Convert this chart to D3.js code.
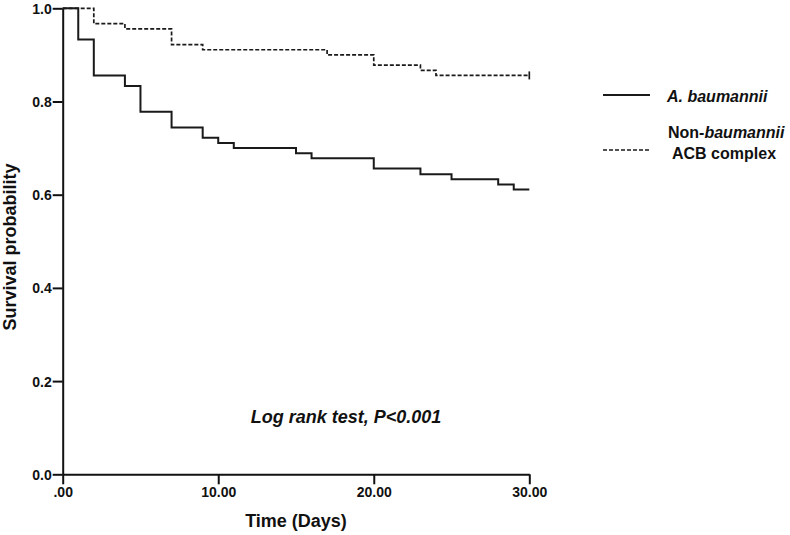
<!DOCTYPE html>
<html><head><meta charset="utf-8">
<script src="https://d3js.org/d3.v7.min.js"></script>
<style>
body{margin:0;background:#fff;}
text{font-family:"Liberation Sans",Arial,sans-serif;fill:#111;}
</style></head>
<body>
<svg id="c" width="790" height="535"></svg>
<script>
// Data
const seriesNames = ["A. baumannii", "Non-baumannii ACB complex"];
const timesA = [0, 1, 2, 4, 5, 7, 9, 10, 11, 15, 16, 20, 23, 25, 28, 29, 30];
const survA  = [1.0, 0.933, 0.856, 0.833, 0.778, 0.744, 0.722, 0.711, 0.700, 0.689, 0.678, 0.656, 0.644, 0.633, 0.622, 0.611, 0.611];
const timesN = [0, 2, 4, 7, 9, 17, 20, 23, 24, 30];
const survN  = [1.0, 0.967, 0.956, 0.922, 0.911, 0.900, 0.878, 0.867, 0.856, 0.856];
const xTicks = [0, 10, 20, 30];
const xTickLabels = [".00", "10.00", "20.00", "30.00"];
const yTicks = [0, 0.2, 0.4, 0.6, 0.8, 1.0];
const yTickLabels = ["0.0", "0.2", "0.4", "0.6", "0.8", "1.0"];

const svg = d3.select("#c");
const x = d3.scaleLinear().domain([0, 30]).range([62.7, 529.3]);
const y = d3.scaleLinear().domain([0, 1]).range([474.3, 8.3]);

// axes
const xAxis = d3.axisBottom(x).tickValues(xTicks).tickFormat((d,i)=>xTickLabels[i]).tickSize(10).tickSizeOuter(0).tickPadding(3);
const gx = svg.append("g").attr("transform", `translate(0,${y(0)})`).call(xAxis);
const yAxis = d3.axisLeft(y).tickValues(yTicks).tickFormat((d,i)=>yTickLabels[i]).tickSize(10).tickSizeOuter(0).tickPadding(1);
const gy = svg.append("g").attr("transform", `translate(${x(0)},0)`).call(yAxis);
[gx, gy].forEach(g=>{
  g.select(".domain").attr("stroke","#111").attr("stroke-width",2);
  g.selectAll(".tick line").attr("stroke","#111").attr("stroke-width",2);
  g.selectAll(".tick text").attr("font-family","Liberation Sans, Arial, sans-serif")
    .attr("font-size",14).attr("font-weight","bold").attr("fill","#111");
});
gy.selectAll(".tick text").attr("dy","0.36em");

// curves
const line = d3.line().x(d=>x(d[0])).y(d=>y(d[1])).curve(d3.curveStepAfter);
const dataA = timesA.map((t,i)=>[t, survA[i]]);
const dataN = timesN.map((t,i)=>[t, survN[i]]);
svg.append("path").attr("d", line(dataA)).attr("fill","none").attr("stroke","#1a1a1a").attr("stroke-width",2);
svg.append("path").attr("d", line(dataN)).attr("fill","none").attr("stroke","#1a1a1a").attr("stroke-width",1.7).attr("stroke-dasharray","4,2");
// censor tick at end of dashed curve
const lastN = dataN[dataN.length-1];
svg.append("line").attr("x1",x(lastN[0])).attr("x2",x(lastN[0]))
  .attr("y1",y(lastN[1])-4).attr("y2",y(lastN[1])+4).attr("stroke","#1a1a1a").attr("stroke-width",1.7);

// axis titles
svg.append("text").attr("x",296).attr("y",527).attr("text-anchor","middle")
  .attr("font-size",18).attr("font-weight","bold").text("Time (Days)");
svg.append("text").attr("transform","translate(16,247) rotate(-90)").attr("text-anchor","middle")
  .attr("font-size",18).attr("font-weight","bold").text("Survival probability");

// annotation
svg.append("text").attr("x",346).attr("y",422.5).attr("text-anchor","middle")
  .attr("font-size",18).attr("font-weight","bold").attr("font-style","italic").text("Log rank test, P<0.001");

// legend
const lg = svg.append("g");
lg.append("line").attr("x1",603).attr("x2",650).attr("y1",95).attr("y2",95).attr("stroke","#1a1a1a").attr("stroke-width",2);
lg.append("text").attr("x",667).attr("y",101.5).attr("font-size",16).attr("font-weight","bold").attr("font-style","italic").text(seriesNames[0]);
lg.append("line").attr("x1",603).attr("x2",650).attr("y1",150).attr("y2",150).attr("stroke","#1a1a1a").attr("stroke-width",1.7).attr("stroke-dasharray","4,2");
const t2 = lg.append("text").attr("x",668).attr("y",137.5).attr("font-size",16).attr("font-weight","bold");
t2.append("tspan").text("Non-");
t2.append("tspan").attr("font-style","italic").text("baumannii");
lg.append("text").attr("x",672).attr("y",158.5).attr("font-size",16).attr("font-weight","bold").text("ACB complex");
</script>
</body></html>
